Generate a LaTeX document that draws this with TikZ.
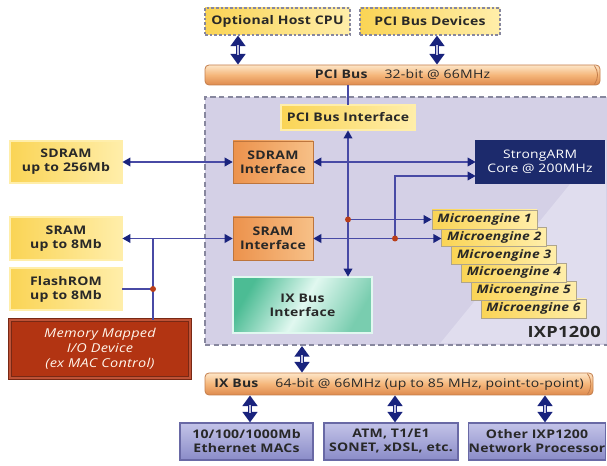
\documentclass[tikz,border=0pt]{standalone}
\usepackage{fontspec}
\setmainfont{Open Sans}[FakeStretch=1.18, LetterSpace=2]
\usetikzlibrary{arrows.meta,calc}
\definecolor{lineblue}{RGB}{72,74,165}
\definecolor{tipblue}{RGB}{25,35,125}
\definecolor{ylwA}{RGB}{250,212,85}
\definecolor{ylwB}{RGB}{255,238,170}
\definecolor{ylwEdge}{RGB}{175,165,140}
\definecolor{orgA}{RGB}{236,146,76}
\definecolor{orgB}{RGB}{247,192,135}
\definecolor{navyA}{RGB}{28,42,108}
\definecolor{navyEdge}{RGB}{70,80,140}
\definecolor{tealA}{RGB}{76,188,148}
\definecolor{tealB}{RGB}{225,248,240}
\definecolor{rust}{RGB}{178,52,18}
\definecolor{rustEdge}{RGB}{120,40,20}
\definecolor{lavA}{RGB}{212,208,230}
\definecolor{lavB}{RGB}{224,221,238}
\definecolor{periA}{RGB}{138,140,200}
\definecolor{periB}{RGB}{195,195,232}
\definecolor{periEdge}{RGB}{105,105,165}
\definecolor{tubeA}{RGB}{253,230,200}
\definecolor{tubeB}{RGB}{245,182,122}
\definecolor{tubeC}{RGB}{222,138,78}
\definecolor{tubeEdge}{RGB}{195,125,75}
\definecolor{dotred}{RGB}{185,62,25}
\definecolor{dashgray}{RGB}{135,135,158}
\definecolor{dblfill}{RGB}{195,195,225}
\definecolor{txt}{RGB}{40,40,40}
\tikzset{
  sz/.style 2 args={minimum width={#1*0.75pt}, minimum height={#2*0.75pt}, inner sep=0pt},
  lbl/.style={font=\bfseries\fontsize{8.9}{10.5}\selectfont, align=center, text=txt},
  ybox/.style={lbl, left color=ylwA, right color=ylwB, draw=ylwEdge, double=ylwB, double distance=1pt, line width=0.6pt},
  hostbox/.style={lbl, left color=ylwA, right color=ylwB, draw=dashgray, dash pattern=on 2pt off 1.5pt, line width=0.8pt},
  obox/.style={lbl, left color=orgA, right color=orgB, draw=orgA!80!black, line width=0.4pt},
  armbox/.style={font=\fontsize{8.8}{10.5}\selectfont, align=center, text=white, fill=navyA, draw=navyEdge, double=navyA, double distance=1.2pt, line width=0.5pt},
  mmbox/.style={font=\itshape\fontsize{9.2}{11.2}\selectfont, align=center, text=white!92!orange, fill=rust, draw=rustEdge, double=rust!85!white, double distance=1.2pt, line width=0.6pt},
  ixbox/.style={lbl, left color=tealA, right color=tealA!75!white, middle color=tealB, shading angle=60, draw=tealA!60!black, double=tealB, double distance=1pt, line width=0.5pt},
  mebox/.style={font=\bfseries\itshape\fontsize{8.8}{10}\selectfont, text=txt, left color=ylwA, right color=ylwB, draw=ylwEdge, line width=0.6pt},
  pbox/.style={lbl, top color=periB, bottom color=periA, draw=periEdge, line width=0.8pt},
  tube/.style={font=\fontsize{8.9}{10}\selectfont, text=txt, top color=tubeA, bottom color=tubeC, middle color=tubeB, draw=tubeEdge, line width=0.6pt, rounded corners=3pt},
  ixpreg/.style={fill=lavA, draw=dashgray, dash pattern=on 4pt off 2.5pt, line width=1.5pt},
  tipS/.tip={Triangle[width=6.5pt,length=6pt,color=tipblue]},
  tipD/.tip={Triangle[width=11pt,length=8pt,color=tipblue]},
  conn/.style={draw=lineblue, line width=1.1pt},
  dbl/.style={draw=dblfill, line width=1.6pt, shorten <=7pt, shorten >=7pt,
    preaction={draw=tipblue, line width=3.6pt, shorten <=0pt, shorten >=0pt, tipD-tipD}},
  dotmark/.style={fill=dotred}
}
\begin{document}
\begin{tikzpicture}[x=0.75pt,y=-0.75pt]
\useasboundingbox (0,0) rectangle (607,466);
% IXP1200 region
\node[ixpreg, sz={410}{248}] (ixp) at (410,221) {};
\fill[lavB] (606,140) -- (606,343.5) -- (440,343.5) -- cycle;
\node[font=\bfseries\fontsize{11.6}{14}\selectfont, text=txt, anchor=south east, inner sep=0pt] (ixplabel) at (601,338) {IXP1200};

% top
\node[hostbox, sz={145}{27}] (host) at (277.5,21.5) {Optional Host CPU};
\node[hostbox, sz={140}{27}] (pcidev) at (430,21.5) {PCI Bus Devices};
\node[tube, sz={395}{20}] (pcibus) at (402.5,75) {\textbf{PCI Bus}\hspace{1.4em}32-bit @ 66MHz};
\draw[tubeEdge, line width=0.6pt] ($(pcibus.north east)+(-6,1)$) to[bend left=35] ($(pcibus.south east)+(-6,-1)$);

\node[ybox, sz={134}{25}] (pciif) at (348,117.5) {PCI Bus Interface};
\node[ybox, sz={112}{42}] (sdram) at (66,162) {SDRAM\\up to 256Mb};
\node[obox, sz={80}{42}] (sdramif) at (273,162) {SDRAM\\Interface};
\node[armbox, sz={128}{42}] (arm) at (540,162) {StrongARM\\Core @ 200MHz};
\node[ybox, sz={112}{43}] (sram) at (66,238.5) {SRAM\\up to 8Mb};
\node[obox, sz={80}{43}] (sramif) at (273,238.5) {SRAM\\Interface};
\node[ybox, sz={112}{42}] (flash) at (66,289) {FlashROM\\up to 8Mb};
\node[mmbox, sz={180}{58}] (mmio) at (100,349) {Memory Mapped\\I/O Device\\(ex MAC Control)};
\node[ixbox, sz={139}{56}] (ixif) at (302.5,305) {IX Bus\\Interface};
\foreach \i in {6,5,4,3,2,1}{
  \pgfmathsetmacro\mx{484.5+(\i-1)*9.8}
  \pgfmathsetmacro\my{219.5+(\i-1)*17.8}
  \node[mebox, sz={105}{19}] (me\i) at (\mx,\my) {Microengine \i};
}

% bottom
\node[tube, sz={388}{22}] (ixbus) at (399,384) {\textbf{IX Bus}\hspace{1.4em}64-bit @ 66MHz (up to 85 MHz, point-to-point)};
\draw[tubeEdge, line width=0.6pt] ($(ixbus.north east)+(-6,1)$) to[bend left=35] ($(ixbus.south east)+(-6,-1)$);
\node[pbox, sz={133}{37}] (eth) at (246.5,441.5) {10/100/1000Mb\\Ethernet MACs};
\node[pbox, sz={134}{37}] (atm) at (391,441.5) {ATM, T1/E1\\SONET, xDSL, etc.};
\node[pbox, sz={134}{37}] (other) at (537,441.5) {Other IXP1200\\Network Processor};

% helper columns
\coordinate (xA) at (238,0);
\coordinate (xB) at (437,0);
\coordinate (xC) at (348,0);
\coordinate (xD) at (302,0);
\coordinate (xE) at (250,0);
\coordinate (xF) at (395,0);
\coordinate (xG) at (545,0);
\coordinate (xH) at (153,0);

% connectors
\draw[dbl] (xA |- host.south) -- (xA |- pcibus.north);
\draw[dbl] (xB |- pcidev.south) -- (xB |- pcibus.north);
\draw[conn] (xC |- pcibus.south) -- (xC |- pciif.north);
\draw[conn, tipS-tipS] (xC |- pciif.south) -- (xC |- ixif.north);
\draw[conn, tipS-tipS] (sdram.east) -- (sdramif.west);
\draw[conn, tipS-tipS] (sdramif.east) -- (arm.west);
\draw[conn, tipS-tipS] (sram.east) -- (sramif.west);
\draw[conn, tipS-tipS] (sramif.east) -- (sramif.east -| me2.west);
\coordinate (d1) at (xC |- me1.west);
\draw[conn, -tipS] (d1) -- (me1.west);
\coordinate (d2) at (xF |- sramif.east);
\coordinate (armin) at ($(arm.west)+(0,14)$);
\draw[conn, -tipS] (d2) |- (armin);
\coordinate (d3) at (xH |- flash.east);
\draw[conn] (xH |- sram.east) -- (xH |- mmio.north);
\draw[conn] (flash.east) -- (d3);
\fill[dotmark] (d1) circle (3);
\fill[dotmark] (d2) circle (3);
\fill[dotmark] (d3) circle (3);

\draw[dbl] (xD |- ixp.south) -- (xD |- ixbus.north);
\draw[dbl] (xE |- ixbus.south) -- (xE |- eth.north);
\draw[dbl] (xF |- ixbus.south) -- (xF |- atm.north);
\draw[dbl] (xG |- ixbus.south) -- (xG |- other.north);
\end{tikzpicture}
\end{document}
